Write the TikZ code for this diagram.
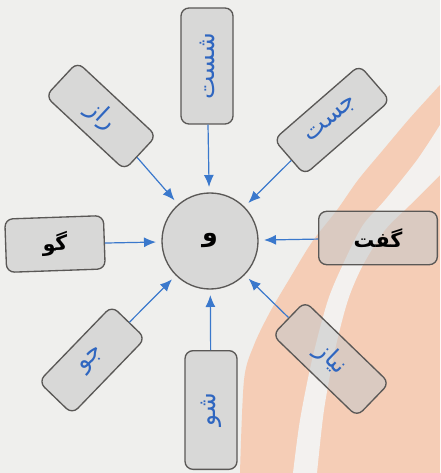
\documentclass[tikz,border=0pt]{standalone}
\usepackage{fontspec}
\usetikzlibrary{arrows.meta}
\TeXXeTstate=1
\newfontfamily\arabicfont[Script=Arabic]{DejaVu Sans}
\definecolor{bgc}{HTML}{EFEFED}
\definecolor{salmon}{HTML}{F5CDB6}
\definecolor{paleband}{HTML}{F3F1EF}
\definecolor{boxfill}{HTML}{C9C9C9}
\definecolor{boxline}{HTML}{5A5856}
\definecolor{wordblue}{HTML}{2F66C0}
\definecolor{arrowblue}{HTML}{3A78CC}
\tikzset{
  wordbox/.style={draw=boxline, line width=1pt, rounded corners=6pt,
    fill=boxfill, fill opacity=0.6, text opacity=1, draw opacity=1,
    inner sep=0pt},
  longbox/.style={wordbox, minimum width=87pt, minimum height=39pt},
  diagbox/.style={wordbox, minimum width=81pt, minimum height=35pt},
  sidebox/.style={wordbox, minimum height=40pt},
  bluew/.style={text=wordblue, font=\arabicfont\fontsize{18.5}{21}\selectfont},
  blackw/.style={text=black, font=\arabicfont\bfseries\fontsize{15.5}{18}\selectfont},
  centre/.style={circle, draw=boxline, line width=1pt, fill=boxfill,
    fill opacity=0.6, text opacity=1, draw opacity=1, minimum size=72pt,
    inner sep=0pt, text=black, font=\arabicfont\bfseries\fontsize{19}{21}\selectfont},
  arr/.style={draw=arrowblue, line width=0.9pt,
    -{Latex[length=9pt,width=7.5pt]}, shorten >=4pt}
}
\begin{document}
\begin{tikzpicture}[x=0.75pt,y=-0.75pt]
\useasboundingbox (0,0) rectangle (440,473);
% background page
\fill[bgc] (0,0) rectangle (440,473);
\fill[salmon] plot[smooth] coordinates {(440,85) (410,118) (383,150) (358,180) (337,210) (312,242) (290,278) (270,312) (254,345) (244,380) (240,473)} -- (440,473) -- cycle;
\fill[paleband] plot[smooth] coordinates {(440,125) (417,160) (385,200) (363,225) (345,260) (328,300) (312,360) (300,420) (293,473)}
  -- plot[smooth] coordinates {(317,473) (324,410) (335,350) (348,300) (363,265) (385,230) (410,205) (440,175)} -- cycle;
% centre
\node[centre] (C) at (210,241) {\beginR و\endR};
% boxes
\node[longbox, rotate=90, bluew] (T) at (207,66) {\beginR شست\endR};
\node[longbox, rotate=90, bluew, minimum width=89pt] (B) at (211,410) {\beginR شو\endR};
\node[sidebox, rotate=2, minimum width=74pt, blackw] (L) at (55,244) {\beginR گو\endR};
\node[sidebox, minimum width=89pt, blackw] (R) at (378,238) {\beginR گفت\endR};
\node[diagbox, rotate=-43, bluew] (UL) at (101,116) {\beginR راز\endR};
\node[diagbox, rotate=41, minimum width=85pt, bluew] (UR) at (332,120) {\beginR جست\endR};
\node[diagbox, rotate=46, minimum width=79pt, bluew] (LL) at (92,360) {\beginR جو\endR};
\node[diagbox, rotate=-44, minimum width=88pt, bluew] (LR) at (331,359) {\beginR نیاز\endR};
% arrows
\foreach \b in {T,B,L,R,UL,UR,LL,LR}
  \draw[arr] (\b) -- (C);
\end{tikzpicture}
\end{document}
